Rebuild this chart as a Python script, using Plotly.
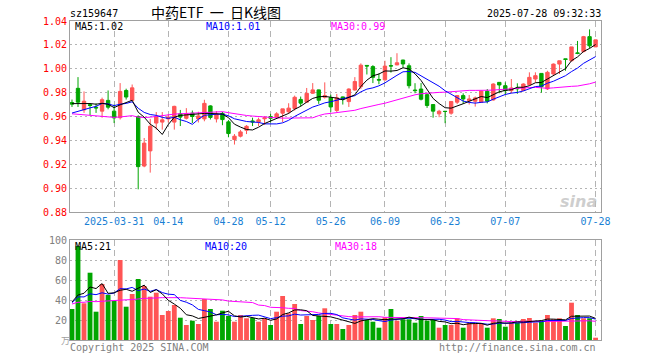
import pandas as pd
import plotly.graph_objects as go

# ---------------- data ----------------
dates = (
    ["2025-03-%02d" % d for d in [20, 21, 24, 25, 26, 27, 28, 31]]
    + ["2025-04-%02d" % d for d in [1, 2, 3, 7, 8, 9, 10, 11, 14, 15, 16, 17, 18, 21, 22, 23, 24, 25, 28, 29, 30]]
    + ["2025-05-%02d" % d for d in [6, 7, 8, 9, 12, 13, 14, 15, 16, 19, 20, 21, 22, 23, 26, 27, 28, 29, 30]]
    + ["2025-06-%02d" % d for d in [3, 4, 5, 6, 9, 10, 11, 12, 13, 16, 17, 18, 19, 20, 23, 24, 25, 26, 27, 30]]
    + ["2025-07-%02d" % d for d in [1, 2, 3, 4, 7, 8, 9, 10, 11, 14, 15, 16, 17, 18, 21, 22, 23, 24, 25, 28]]
)

open_ = [0.9717, 0.9836, 0.9655, 0.9700, 0.9677, 0.9645, 0.9735, 0.9645, 0.9590, 0.9818,
         0.9735, 0.9600, 0.9185, 0.9312, 0.9545, 0.9553, 0.9580, 0.9553, 0.9622, 0.9585,
         0.9628, 0.9580, 0.9580, 0.9689, 0.9580, 0.9626, 0.9555, 0.9407, 0.9435, 0.9485,
         0.9563, 0.9555, 0.9581, 0.9600, 0.9595, 0.9628, 0.9640, 0.9667, 0.9743, 0.9720,
         0.9795, 0.9823, 0.9762, 0.9758, 0.9650, 0.9764, 0.9725, 0.9822, 0.9850, 1.0028,
         1.0018, 0.9910, 0.9907, 1.0026, 1.0032, 1.0073, 1.0025, 0.9822, 0.9830, 0.9783,
         0.9700, 0.9622, 0.9644, 0.9628, 0.9720, 0.9775, 0.9733, 0.9728, 0.9720, 0.9811,
         0.9739, 0.9886, 0.9858, 0.9817, 0.9836, 0.9817, 0.9867, 0.9914, 0.9961, 0.9831,
         0.9956, 1.0039, 1.0083, 1.0067, 1.0133, 1.0144, 1.0269, 1.0183]
high = [0.9742, 0.9930, 0.9810, 0.9708, 0.9710, 0.9758, 0.9818, 0.9700, 0.9880, 0.9833,
        0.9868, 0.9610, 0.9420, 0.9580, 0.9637, 0.9637, 0.9620, 0.9690, 0.9655, 0.9670,
        0.9650, 0.9640, 0.9740, 0.9694, 0.9645, 0.9639, 0.9570, 0.9453, 0.9486, 0.9528,
        0.9590, 0.9590, 0.9603, 0.9622, 0.9636, 0.9664, 0.9711, 0.9775, 0.9767, 0.9839,
        0.9880, 0.9825, 0.9886, 0.9783, 0.9789, 0.9767, 0.9836, 0.9930, 1.0045, 1.0030,
        1.0030, 0.9960, 1.0067, 1.0097, 1.0130, 1.0075, 1.0045, 0.9879, 0.9880, 0.9794,
        0.9700, 0.9656, 0.9646, 0.9728, 0.9775, 0.9794, 0.9780, 0.9767, 0.9817, 0.9830,
        0.9878, 0.9886, 0.9886, 0.9914, 0.9878, 0.9878, 0.9970, 0.9970, 0.9961, 0.9983,
        1.0044, 1.0067, 1.0083, 1.0183, 1.0233, 1.0275, 1.0330, 1.0242]
low = [0.9680, 0.9680, 0.9630, 0.9610, 0.9630, 0.9590, 0.9660, 0.9545, 0.9575, 0.9742,
       0.9730, 0.8990, 0.9175, 0.9130, 0.9490, 0.9490, 0.9550, 0.9490, 0.9520, 0.9575,
       0.9545, 0.9550, 0.9560, 0.9575, 0.9550, 0.9527, 0.9426, 0.9365, 0.9425, 0.9453,
       0.9520, 0.9520, 0.9530, 0.9550, 0.9583, 0.9553, 0.9622, 0.9650, 0.9683, 0.9717,
       0.9789, 0.9706, 0.9750, 0.9639, 0.9636, 0.9700, 0.9680, 0.9817, 0.9830, 0.9952,
       0.9880, 0.9870, 0.9900, 0.9968, 1.0030, 1.0008, 0.9835, 0.9795, 0.9735, 0.9672,
       0.9590, 0.9594, 0.9544, 0.9615, 0.9705, 0.9706, 0.9700, 0.9683, 0.9713, 0.9710,
       0.9733, 0.9795, 0.9783, 0.9795, 0.9790, 0.9817, 0.9858, 0.9886, 0.9800, 0.9822,
       0.9950, 0.9956, 0.9983, 1.0061, 1.0122, 1.0136, 1.0172, 1.0183]
close = [0.9703, 0.9720, 0.9728, 0.9692, 0.9672, 0.9741, 0.9678, 0.9588, 0.9810, 0.9763,
         0.9840, 0.9180, 0.9377, 0.9518, 0.9600, 0.9572, 0.9595, 0.9685, 0.9595, 0.9620,
         0.9600, 0.9605, 0.9710, 0.9592, 0.9620, 0.9574, 0.9457, 0.9435, 0.9471, 0.9518,
         0.9555, 0.9572, 0.9589, 0.9585, 0.9622, 0.9664, 0.9670, 0.9761, 0.9712, 0.9794,
         0.9823, 0.9736, 0.9775, 0.9680, 0.9757, 0.9747, 0.9830, 0.9893, 1.0030, 1.0023,
         0.9928, 0.9905, 1.0022, 1.0023, 1.0050, 1.0040, 0.9858, 0.9817, 0.9745, 0.9692,
         0.9645, 0.9644, 0.9642, 0.9726, 0.9775, 0.9747, 0.9747, 0.9756, 0.9813, 0.9728,
         0.9872, 0.9864, 0.9817, 0.9839, 0.9833, 0.9872, 0.9928, 0.9942, 0.9850, 0.9970,
         1.0039, 1.0067, 1.0078, 1.0183, 1.0128, 1.0269, 1.0192, 1.0242]
volume = [31, 94, 36.7, 67.3, 28.3, 56, 45, 39.3, 80, 33.3,
          46, 61, 54, 43.3, 47.3, 25, 29, 35, 22.3, 15,
          19.3, 16, 41, 31, 18.3, 29.3, 24, 18.3, 25, 21.7,
          22, 18.3, 21.7, 15, 28.3, 44, 26.7, 36, 16, 24,
          20, 24, 31.7, 16, 16, 11, 15, 25, 28.3, 20,
          18.3, 12.3, 22.7, 31, 19.3, 20.7, 20.7, 17.3, 24, 19.3,
          20, 12.3, 15, 15, 21.7, 12.3, 17.3, 16, 16, 12.3,
          21.7, 21, 13.3, 17.3, 17.3, 21, 22, 17.3, 19.3, 25,
          20.7, 21.7, 14, 37.3, 25, 21.7, 21.7, 2.3]

# closes / volumes before the first visible day (only feed the moving averages)
prior_close = [0.984, 0.986, 0.983, 0.982, 0.985, 0.978, 0.974, 0.970, 0.966, 0.962,
               0.955, 0.948, 0.942, 0.938, 0.940, 0.944, 0.947, 0.950, 0.952, 0.953,
               0.956, 0.958, 0.957, 0.954, 0.950, 0.9715, 0.9732, 0.9690, 0.9700]
prior_volume = [42, 38, 40, 36, 41, 39, 37, 43, 38, 40, 36, 41, 39,
                30, 26, 29, 27, 31, 25, 29, 35, 38, 36, 37, 37, 59, 28, 36, 36]

price_ticks = [0.88, 0.90, 0.92, 0.94, 0.96, 0.98, 1.00, 1.02, 1.04]
vol_ticks = [20, 40, 60, 80, 100]
tick_dates = ["2025-03-31", "2025-04-14", "2025-04-28", "2025-05-12", "2025-05-26",
              "2025-06-09", "2025-06-23", "2025-07-07", "2025-07-28"]
tick_labels = ["2025-03-31", "04-14", "04-28", "05-12", "05-26", "06-09", "06-23", "07-07", "07-28"]

title_code = "sz159647"
title_name = "中药ETF\u00a0\u00a0一\u00a0\u00a0日K线图"
timestamp = "2025-07-28 09:32:33"
price_legend = ["MA5:1.02", "MA10:1.01", "MA30:0.99"]
vol_legend = ["MA5:21", "MA10:20", "MA30:18"]

# ---------------- derived ----------------
n = len(dates)
sc = pd.Series(prior_close + close)
sv = pd.Series(prior_volume + volume)
pma = {k: sc.rolling(k).mean().iloc[-n:].tolist() for k in (5, 10, 30)}
vma = {k: sv.rolling(k).mean().iloc[-n:].tolist() for k in (5, 10, 30)}

RED = "#FF5555"
GREEN = "#00A600"
MA_COLORS = {5: "#000000", 10: "#0000FF", 30: "#FF00FF"}
MONO = "DejaVu Sans Mono"
GRID = "#B4B4B4"
FRAME = "#A0A0A0"

vol_colors = [RED if c >= o else GREEN for o, c in zip(open_, close)]

fig = go.Figure()
fig.add_trace(go.Candlestick(
    x=dates, open=open_, high=high, low=low, close=close,
    increasing=dict(line=dict(color=RED, width=1), fillcolor=RED),
    decreasing=dict(line=dict(color=GREEN, width=1), fillcolor=GREEN),
    whiskerwidth=0, hoverinfo="skip", xaxis="x", yaxis="y"))
for k in (30, 10, 5):
    fig.add_trace(go.Scatter(x=dates, y=pma[k], mode="lines",
                             line=dict(color=MA_COLORS[k], width=1),
                             hoverinfo="skip", xaxis="x", yaxis="y"))
fig.add_trace(go.Bar(x=dates, y=volume, marker=dict(color=vol_colors, line=dict(width=0)),
                     width=0.8, hoverinfo="skip", xaxis="x2", yaxis="y2"))
for k in (30, 10, 5):
    fig.add_trace(go.Scatter(x=dates, y=vma[k], mode="lines",
                             line=dict(color=MA_COLORS[k], width=1),
                             hoverinfo="skip", xaxis="x2", yaxis="y2"))

L, R, T, B = 70, 601, 21, 340
W, H = R - L, B - T


def px(x):
    return (x - L) / W


def py(y):
    return (B - y) / H


xcommon = dict(type="category", range=[-0.33, n - 0.1], showgrid=True, gridcolor=GRID,
               griddash="6px,4px", gridwidth=1, showline=True, linecolor=FRAME, linewidth=1,
               mirror=True, ticks="", zeroline=False, fixedrange=True,
               tickvals=tick_dates, ticktext=tick_labels)
fig.update_layout(
    width=660, height=360, margin=dict(l=L, r=660 - R, t=T, b=360 - B),
    paper_bgcolor="white", plot_bgcolor="white", showlegend=False, boxgap=0.2,
    xaxis=dict(xcommon, domain=[0, 1], anchor="y", rangeslider=dict(visible=False),
               tickfont=dict(family=MONO, size=10, color="#1A7FD4")),
    xaxis2=dict(xcommon, domain=[0, 1], anchor="y2", matches="x", showticklabels=False),
    yaxis=dict(domain=[py(212), 1], range=[0.88, 1.04], tickvals=price_ticks,
               ticktext=["%.2f" % v for v in price_ticks], showgrid=True, gridcolor=GRID,
               griddash="2px,3px", showline=True, linecolor=FRAME, mirror=True, ticks="",
               zeroline=False, fixedrange=True,
               tickfont=dict(family=MONO, size=10, color="#FF0000")),
    yaxis2=dict(domain=[0, py(240)], range=[0, 100.01], tickvals=vol_ticks,
                ticktext=[str(v) for v in vol_ticks], showgrid=True, gridcolor=GRID,
                griddash="2px,3px", showline=True, linecolor=FRAME, mirror=True, ticks="",
                zeroline=False, fixedrange=True,
                tickfont=dict(family=MONO, size=10, color="#808080")),
)


def ann(text, x, y, color, anchor="left", size=10, family=MONO, **kw):
    fig.add_annotation(text=text, x=px(x), y=py(y), xref="paper", yref="paper",
                       xanchor=anchor, yanchor="middle", showarrow=False, borderpad=0,
                       font=dict(family=family, size=size, color=color), **kw)


ann(title_code, 69, 13, "#000000")
ann(title_name, 150, 12, "#000000", size=14, family="Noto Sans CJK SC")
ann(timestamp, 602, 13, "#000000", anchor="right")
for text, x, k in zip(price_legend, [74, 205, 330], (5, 10, 30)):
    ann(text, x, 27, MA_COLORS[k])
for text, x, k in zip(vol_legend, [74, 204, 334], (5, 10, 30)):
    ann(text, x, 247, MA_COLORS[k])
ann("万", 60, 341, "#A0A0A0", size=9, family="Noto Sans CJK SC")
ann("Copyright 2025 SINA.COM", 69, 347, "#808080")
ann("http://finance.sina.com.cn", 597, 347, "#808080", anchor="right")
ann("<b><i>sina</i></b>", 598, 201, "rgba(190,190,190,0.75)", anchor="right", size=16,
    family="DejaVu Sans")

fig.write_html("out.html", config={"displayModeBar": False, "staticPlot": True},
               post_script="document.body.style.margin='0';document.body.style.overflow='hidden';")
